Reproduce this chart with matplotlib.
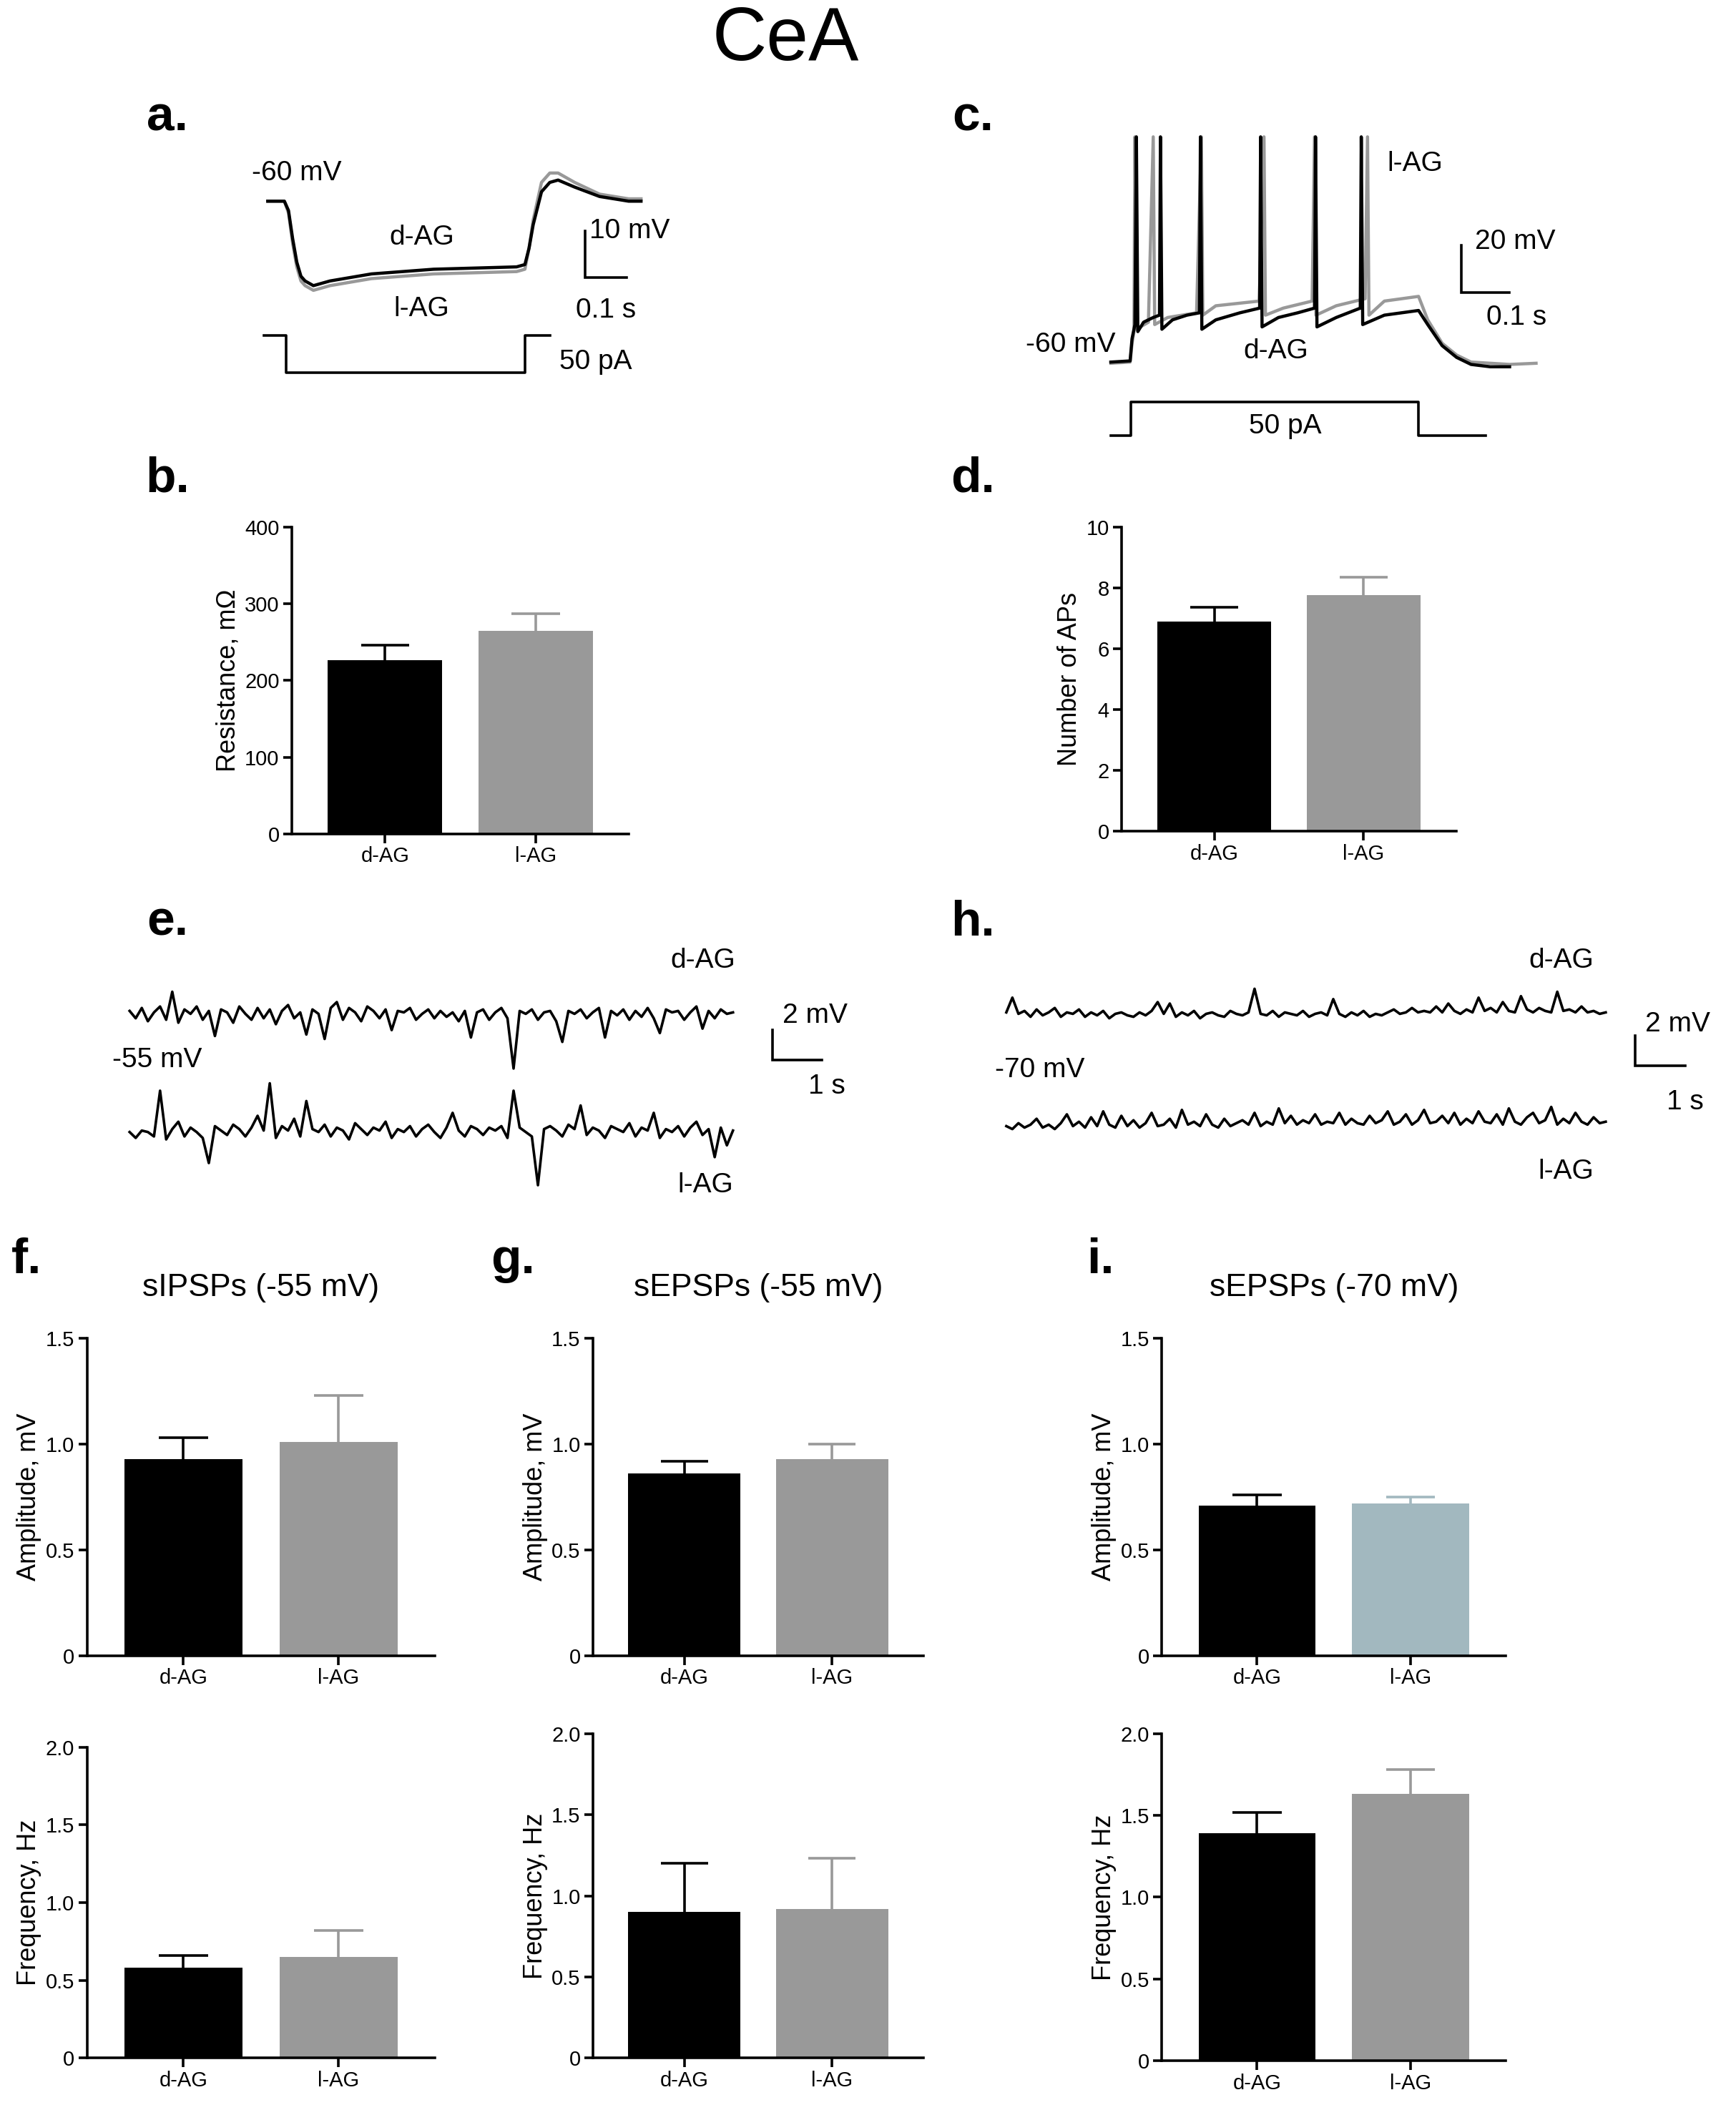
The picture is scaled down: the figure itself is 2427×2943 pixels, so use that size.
import numpy as np
import matplotlib
matplotlib.use('Agg')
from matplotlib import pyplot as plt

plt.rcParams['font.family'] = ['Liberation Sans', 'DejaVu Sans']

# ---------------- data ----------------
GROUPS = ['d-AG', 'l-AG']
GRAY = '#999999'
BLUEGRAY = '#a2b8bf'

RES_MEAN = [226, 265]; RES_ERR = [20, 22]
APS_MEAN = [6.9, 7.75]; APS_ERR = [0.45, 0.6]
F_AMP = [0.93, 1.01]; F_AMP_ERR = [0.10, 0.22]
F_FRQ = [0.58, 0.65]; F_FRQ_ERR = [0.08, 0.17]
G_AMP = [0.86, 0.93]; G_AMP_ERR = [0.06, 0.07]
G_FRQ = [0.90, 0.92]; G_FRQ_ERR = [0.30, 0.31]
I_AMP = [0.71, 0.72]; I_AMP_ERR = [0.05, 0.03]
I_FRQ = [1.39, 1.63]; I_FRQ_ERR = [0.13, 0.15]

# panel a traces (ms, mV)
A_T = [0, 40, 50, 60, 70, 80, 90, 110, 150, 250, 400, 600, 620, 630, 640, 660, 680, 700, 740, 800, 870, 900]
A_D = [-60, -60, -62, -68, -73, -76, -77, -78, -77, -75.5, -74.5, -74, -73.5, -70, -65, -58, -56, -55.5, -57, -59, -60, -60]
A_L = [-60, -60, -62.5, -69, -74, -77, -78, -79, -78, -76.5, -75.5, -75, -74.5, -70, -64, -56, -54, -54, -56, -58.5, -59.5, -59.5]
A_IT = [-10, 45, 45, 620, 620, 680]
A_I = [0, 0, -50, -50, 0, 0]

# panel c traces (ms, mV)
C_DT = [-28, 12, 16, 22, 25, 28, 40, 60, 73, 75, 78, 100, 130, 156, 158, 161, 190, 240, 281, 283, 286,
        320, 360, 395, 397, 400, 440, 490, 492, 495, 540, 611, 630, 660, 690, 720, 760, 800]
C_DV = [-60, -59.5, -50, -44, 36, -47, -43, -41, -40, 36, -46, -42, -40, -39, 36, -46, -42, -39, -37, 36, -45,
        -41, -39, -37, 36, -45, -41, -37, 36, -44, -40, -38, -44, -53, -58, -61, -62, -62]
C_LT = [-28, 12, 16, 20, 22, 25, 50, 60, 63, 90, 150, 160, 163, 190, 280, 290, 293, 330, 390, 395, 398,
        440, 500, 505, 508, 540, 611, 630, 660, 690, 720, 800, 855]
C_LV = [-60.5, -60, -52, -47, 36, -46, -43, 36, -44, -41, -39, 36, -40, -36, -34, 36, -40, -37, -34, 36, -40,
        -36, -33, 36, -40, -34, -32, -42, -52, -57, -60, -61, -60.5]
C_IT = [-28, 14, 14, 611, 611, 750]
C_I = [0, 0, 50, 50, 0, 0]

# panel e/h traces (mV deviation, 12.2 s)
E_TOP = [0.3, -0.2, 0.5, -0.4, 0.2, 0.6, -0.3, 1.6, -0.5, 0.4, 0.1, 0.6, -0.3, 0.3, -1.4, 0.4, 0.2, -0.5, 0.6, 0.1,
         -0.3, 0.5, -0.2, 0.4, -0.6, 0.3, 0.7, -0.2, 0.2, -1.3, 0.4, 0.1, -1.6, 0.5, 0.9, -0.3, 0.5, 0.2, -0.4, 0.6,
         0.3, -0.2, 0.4, -1.0, 0.3, 0.2, 0.5, -0.3, 0.1, 0.4, -0.2, 0.3, -0.1, 0.2, -0.4, 0.3, -1.5, 0.2, 0.4, -0.3,
         0.2, 0.5, -0.2, -3.6, 0.3, 0.1, 0.4, -0.3, 0.2, 0.3, -0.4, -1.8, 0.3, 0.1, 0.4, -0.2, 0.2, 0.5, -1.5, 0.3,
         0.0, 0.4, -0.3, 0.3, -0.1, 0.5, -0.2, -1.2, 0.4, 0.2, 0.3, -0.3, 0.2, 0.6, -0.9, 0.3, -0.2, 0.4, 0.1, 0.2]
E_BOT = [0.1, -0.3, 0.2, 0.1, -0.2, 2.9, -0.4, 0.3, 0.8, -0.2, 0.4, 0.1, -0.3, -2.0, 0.5, 0.2, -0.1, 0.6, 0.3, -0.2,
         0.4, 1.2, 0.2, 3.4, -0.3, 0.5, 0.2, 1.0, -0.2, 2.2, 0.3, 0.1, 0.6, -0.2, 0.4, 0.2, -0.4, 0.7, 0.3, -0.1,
         0.4, 0.2, 0.8, -0.3, 0.3, 0.1, 0.5, -0.2, 0.3, 0.6, 0.1, -0.3, 0.4, 1.4, 0.2, -0.2, 0.5, 0.3, -0.1, 0.4,
         0.2, 0.5, -0.3, 2.9, 0.4, 0.1, -0.2, -3.5, 0.3, 0.5, 0.2, -0.2, 0.6, 0.3, 1.9, -0.1, 0.4, 0.2, -0.3, 0.5,
         0.3, 0.1, 0.7, -0.2, 0.4, 0.2, 1.4, -0.3, 0.3, 0.1, 0.5, -0.2, 0.4, 0.8, -0.1, 0.3, -1.6, 0.4, -0.8, 0.2]
H_TOP = [0.2, 1.2, 0.1, 0.3, -0.1, 0.4, 0.0, 0.2, 0.5, -0.1, 0.2, 0.1, 0.4, -0.1, 0.2, 0.0, 0.3, -0.2, 0.1, 0.2,
         0.0, -0.1, 0.2, 0.0, 0.3, 0.9, 0.1, 0.8, -0.1, 0.2, 0.0, 0.3, -0.2, 0.1, 0.2, 0.0, -0.1, 0.3, 0.1, 0.0,
         0.2, 1.8, 0.1, 0.0, 0.3, -0.1, 0.2, 0.1, 0.0, 0.3, -0.1, 0.1, 0.2, 0.0, 1.1, 0.1, -0.1, 0.2, 0.0, 0.3,
         -0.1, 0.1, 0.0, 0.2, 0.4, 0.1, 0.2, 0.5, 0.2, 0.3, 0.2, 0.6, 0.2, 0.8, 0.3, 0.1, 0.4, 0.2, 1.2, 0.3,
         0.5, 0.2, 0.9, 0.3, 0.2, 1.3, 0.4, 0.2, 0.5, 0.3, 0.2, 1.6, 0.3, 0.4, 0.2, 0.6, 0.2, 0.3, 0.1, 0.2]
H_BOT = [0.1, -0.1, 0.3, 0.0, 0.2, 0.6, 0.0, 0.2, -0.1, 0.3, 0.9, 0.1, 0.4, 0.0, 0.7, 0.1, 1.1, 0.2, 0.0, 0.8,
         0.1, 0.5, 0.0, 0.3, 1.0, 0.1, 0.2, 0.6, 0.0, 1.2, 0.2, 0.4, 0.1, 0.9, 0.2, 0.0, 0.6, 0.1, 0.3, 0.5,
         0.2, 1.0, 0.1, 0.4, 0.2, 1.3, 0.3, 0.8, 0.2, 0.5, 0.3, 0.9, 0.2, 0.4, 0.3, 1.0, 0.2, 0.6, 0.3, 0.2,
         0.8, 0.3, 0.5, 1.1, 0.2, 0.4, 0.9, 0.2, 0.5, 1.2, 0.3, 0.4, 0.8, 0.3, 1.0, 0.2, 0.6, 0.3, 1.1, 0.4,
         0.3, 0.9, 0.2, 1.3, 0.4, 0.2, 0.7, 1.0, 0.3, 0.5, 1.4, 0.2, 0.6, 0.3, 1.0, 0.4, 0.2, 0.7, 0.3, 0.4]

# ---------------- layout helpers ----------------
W, H = 1297.0, 1570.0
fig = plt.figure(figsize=(24.27, 29.43), dpi=100)
LW = 3.2


def px_axes(x0, y0, x1, y1):
  return fig.add_axes([x0 / W, 1 - y1 / H, (x1 - x0) / W, (y1 - y0) / H])


def trace_axes(x0, y0, x1, y1, xlim, ylim):
  ax = px_axes(x0, y0, x1, y1)
  ax.set_xlim(*xlim); ax.set_ylim(*ylim)
  ax.axis('off')
  return ax


def scalebar(ax, x, y, dx, dy):
  ax.plot([x, x, x + dx], [y + dy, y, y], color='black', lw=2.6, solid_joinstyle='miter')


def fmt_tick(t, ymax):
  if t == 0:
    return '0'
  return f'{t:.1f}' if ymax < 5 else f'{t:g}'


def bar_panel(box, means, errs, ylim, yticks, ylabel, colors=('black', GRAY), title=None):
  ax = px_axes(*box)
  for i, (m, e, c) in enumerate(zip(means, errs, colors)):
    ax.bar(i, m, width=0.76, color=c, zorder=2)
    # upward-only error bar
    ax.vlines(i, m, m + e, color=c, lw=2.6, zorder=1)
    ax.hlines(m + e, i - 0.16, i + 0.16, color=c, lw=2.6, zorder=1)
  ax.set_xlim(-0.62, 1.62)
  ax.set_ylim(*ylim)
  ax.set_yticks(yticks)
  ax.set_yticklabels([fmt_tick(t, ylim[1]) for t in yticks])
  ax.set_xticks([0, 1]); ax.set_xticklabels(GROUPS)
  for s in ['top', 'right']:
    ax.spines[s].set_visible(False)
  for s in ['left', 'bottom']:
    ax.spines[s].set_linewidth(2.6)
  ax.tick_params(width=2.6, length=9, labelsize=21)
  ax.set_ylabel(ylabel, fontsize=26)
  if title:
    ax.set_title(title, fontsize=32, pad=42)
  return ax


# ---------------- title & panel letters ----------------
fig.text(587 / W, 1 - 30 / H, 'CeA', fontsize=76, ha='center', va='center')
for lab, x, y in [('a.', 125, 88), ('c.', 727, 88), ('b.', 125, 357), ('d.', 727, 357),
                  ('e.', 125, 688), ('h.', 727, 688), ('f.', 20, 940), ('g.', 383, 940), ('i.', 822, 940)]:
  fig.text(x / W, 1 - y / H, lab, fontsize=50, fontweight='bold', ha='center', va='center')

# ---------------- panel a ----------------
ax = trace_axes(170, 100, 500, 240, (-97, 968), (-85.7, -45.7))
ax.plot(A_T, A_L, color=GRAY, lw=LW)
ax.plot(A_T, A_D, color='black', lw=LW)
scalebar(ax, 765, -76.3, 100, 10)
ax.text(775, -66.3, '10 mV', fontsize=28, va='center')
ax.text(815, -80.5, '0.1 s', fontsize=28, ha='center', va='top')
ax.text(-39, -54, '-60 mV', fontsize=28, ha='left', va='center')
ax.text(371, -67.7, 'd-AG', fontsize=28, ha='center', va='center')
ax.text(371, -82.9, 'l-AG', fontsize=28, ha='center', va='center')
ax = trace_axes(170, 240, 500, 290, (-97, 968), (-71.4, 17.9))
ax.plot(A_IT, A_I, color='black', lw=2.6)
ax.text(790, -35.7, '50 pA', fontsize=28, ha='center', va='center')

# ---------------- panel c ----------------
ax = trace_axes(740, 90, 1180, 290, (-278, 945), (-71.4, 42.9))
ax.plot(C_LT, C_LV, color=GRAY, lw=LW)
ax.plot(C_DT, C_DV, color='black', lw=LW)
scalebar(ax, 700, -30.3, 100, 20)
ax.text(728, -8.6, '20 mV', fontsize=28, va='center')
ax.text(815, -41, '0.1 s', fontsize=28, ha='center', va='center')
ax.text(-19, -52.6, '-60 mV', fontsize=28, ha='right', va='center')
ax.text(603, 24.6, 'l-AG', fontsize=28, ha='center', va='center')
ax.text(314, -55.4, 'd-AG', fontsize=28, ha='center', va='center')
ax = trace_axes(740, 290, 1180, 340, (-278, 945), (-30, 70))
ax.plot(C_IT, C_I, color='black', lw=2.6)
ax.text(334, 14, '50 pA', fontsize=28, ha='center', va='center')

# ---------------- panel b, d ----------------
bar_panel((218, 393, 470, 622), RES_MEAN, RES_ERR, (0, 400), [0, 100, 200, 300, 400], 'Resistance, m\u03a9')
bar_panel((838, 393, 1088, 620), APS_MEAN, APS_ERR, (0, 10), [0, 2, 4, 6, 8, 10], 'Number of APs')

# ---------------- panels e, h ----------------
t = np.linspace(0, 12.2, len(E_TOP))
ax = trace_axes(85, 700, 640, 895, (-0.32, 14.7), (-12.5, 5.2))
ax.plot(t, E_TOP, color='black', lw=2.6)
ax.plot(t, np.array(E_BOT) - 8, color='black', lw=2.6)
scalebar(ax, 13.0, -3.0, 1.0, 2.0)
ax.text(13.2, 0.0, '2 mV', fontsize=28, va='center')
ax.text(14.1, -4.8, '1 s', fontsize=28, ha='center', va='center')
ax.text(-0.35, -3.0, '-55 mV', fontsize=28, ha='left', va='center')
ax.text(11.6, 3.7, 'd-AG', fontsize=28, ha='center', va='center')
ax.text(11.65, -11.5, 'l-AG', fontsize=28, ha='center', va='center')

t = np.linspace(0, 12.1, len(H_TOP))
ax = trace_axes(740, 700, 1297, 895, (-0.32, 14.73), (-12.5, 5.2))
ax.plot(t, H_TOP, color='black', lw=2.6)
ax.plot(t, np.array(H_BOT) - 7.6, color='black', lw=2.6)
scalebar(ax, 12.7, -3.4, 1.0, 2.0)
ax.text(12.9, -0.6, '2 mV', fontsize=28, va='center')
ax.text(13.7, -5.9, '1 s', fontsize=28, ha='center', va='center')
ax.text(0.68, -3.7, '-70 mV', fontsize=28, ha='center', va='center')
ax.text(11.2, 3.7, 'd-AG', fontsize=28, ha='center', va='center')
ax.text(11.3, -10.6, 'l-AG', fontsize=28, ha='center', va='center')

# ---------------- panels f, g, i ----------------
amp_ticks = [0, 0.5, 1.0, 1.5]
frq_ticks = [0, 0.5, 1.0, 1.5, 2.0]
bar_panel((65, 998, 325, 1235), F_AMP, F_AMP_ERR, (0, 1.5), amp_ticks, 'Amplitude, mV', title='sIPSPs (-55 mV)')
bar_panel((65, 1303, 325, 1535), F_FRQ, F_FRQ_ERR, (0, 2.0), frq_ticks, 'Frequency, Hz')
bar_panel((443, 998, 690, 1235), G_AMP, G_AMP_ERR, (0, 1.5), amp_ticks, 'Amplitude, mV', title='sEPSPs (-55 mV)')
bar_panel((443, 1293, 690, 1535), G_FRQ, G_FRQ_ERR, (0, 2.0), frq_ticks, 'Frequency, Hz')
bar_panel((868, 998, 1125, 1235), I_AMP, I_AMP_ERR, (0, 1.5), amp_ticks, 'Amplitude, mV',
          colors=('black', BLUEGRAY), title='sEPSPs (-70 mV)')
bar_panel((868, 1293, 1125, 1537), I_FRQ, I_FRQ_ERR, (0, 2.0), frq_ticks, 'Frequency, Hz')

fig.savefig('out.png', dpi=100)
